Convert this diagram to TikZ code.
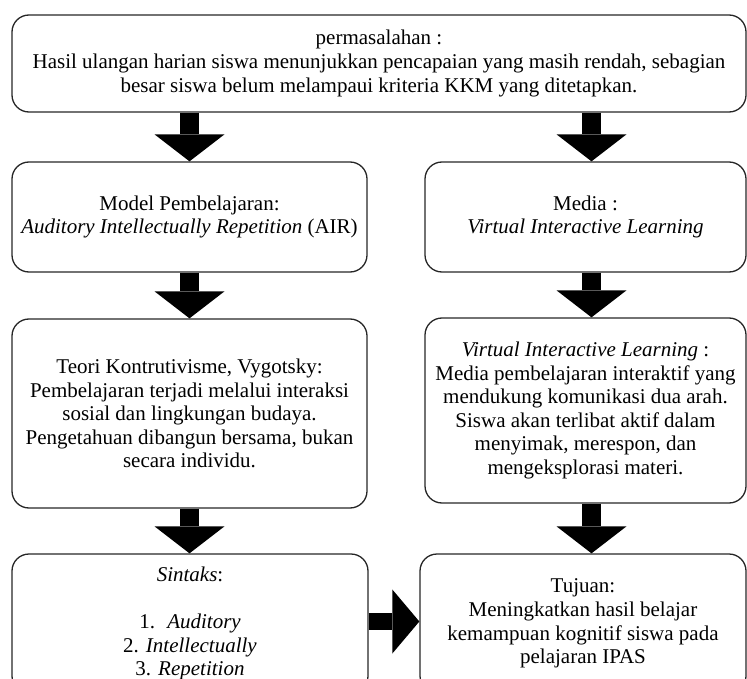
\documentclass[tikz,border=0pt]{standalone}
\usepackage{fontspec}
\setmainfont{Liberation Serif}
\usetikzlibrary{arrows.meta,calc}
\tikzset{
  box/.style={draw=black!85, line width=1.3pt, rounded corners=17pt, align=center, inner sep=0pt,
    font=\fontsize{21}{23.6}\selectfont},
  blk/.style={line width=19pt, -{Triangle[length=27pt,width=70pt,line width=0pt]}},
  blkh/.style={line width=17pt, -{Triangle[length=27pt,width=64pt,line width=0pt]}},
}
\begin{document}
\begin{tikzpicture}[x=1pt,y=-1pt]
\useasboundingbox (0,0) rectangle (747,679);
\clip (0,0) rectangle (747,679);
\node[box, minimum width=734pt, minimum height=97pt] (prob) at (379,63.5)
  {permasalahan :\\ Hasil ulangan harian siswa menunjukkan pencapaian yang masih rendah, sebagian\\ besar siswa belum melampaui kriteria KKM yang ditetapkan.};
\node[box, minimum width=355pt, minimum height=110pt] (model) at (189.5,217)
  {Model Pembelajaran:\\ \textit{Auditory Intellectually Repetition} (AIR)};
\node[box, minimum width=321pt, minimum height=110pt] (media) at (585.5,217)
  {Media :\\ \textit{Virtual Interactive Learning}};
\node[box, minimum width=355pt, minimum height=189pt] (teori) at (189.5,413.5)
  {Teori Kontrutivisme, Vygotsky:\\ Pembelajaran terjadi melalui interaksi\\ sosial dan lingkungan budaya.\\ Pengetahuan dibangun bersama, bukan\\ secara individu.};
\node[box, minimum width=321pt, minimum height=185pt] (vil) at (585.5,410.5)
  {\textit{Virtual Interactive Learning} :\\ Media pembelajaran interaktif yang\\ mendukung komunikasi dua arah.\\ Siswa akan terlibat aktif dalam\\ menyimak, merespon, dan\\ mengeksplorasi materi.};
\node[box, minimum width=356pt, minimum height=139pt] (sintaks) at (190,623.5)
  {\textit{Sintaks}:\\[23.6pt] 1.~ \textit{Auditory}\\ 2. \textit{Intellectually}\\ 3. \textit{Repetition}};
\node[box, minimum width=326pt, minimum height=139pt] (tujuan) at (583,623.5)
  {Tujuan:\\ Meningkatkan hasil belajar\\ kemampuan kognitif siswa pada\\ pelajaran IPAS};
\coordinate (xl) at (189.5,0);
\coordinate (xr) at (591.5,0);
\coordinate (yh) at (0,621.5);
\draw[blk] (prob.south -| xl) -- (model.north -| xl);
\draw[blk] (prob.south -| xr) -- (media.north -| xr);
\draw[blk] (model.south -| xl) -- (teori.north -| xl);
\draw[blk] (media.south -| xr) -- (vil.north -| xr);
\draw[blk] (teori.south -| xl) -- (sintaks.north -| xl);
\draw[blk] (vil.south -| xr) -- (tujuan.north -| xr);
\draw[blkh] (sintaks.east |- yh) -- (tujuan.west |- yh);
\end{tikzpicture}
\end{document}
